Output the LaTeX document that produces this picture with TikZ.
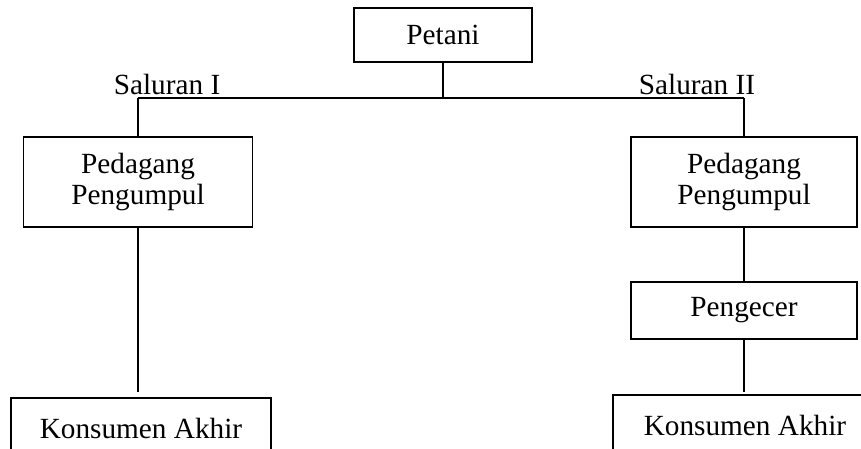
\documentclass[tikz,border=0pt]{standalone}
\usepackage{fontspec}
\setmainfont{Liberation Serif}
\newcommand{\pxu}{0.41pt}

\begin{document}
\begin{tikzpicture}[x=\pxu,y=-\pxu,
    kotak/.style={draw,line width=0.6pt,inner sep=0pt,align=center,
        font=\fontsize{12}{12.6}\selectfont},
    garis/.style={line width=0.45pt},
    label/.style={font=\fontsize{12}{12.6}\selectfont}]

\useasboundingbox (0,0) rectangle (861,448);
\begin{scope}
\clip (0,0) rectangle (861,448);

% boxes
\node[kotak,minimum width=178*\pxu,minimum height=54*\pxu] (petani) at (443,35) {Petani};
\node[kotak,minimum width=229*\pxu,minimum height=90*\pxu] (pp1) at (138,182) {Pedagang\\Pengumpul};
\node[kotak,minimum width=226*\pxu,minimum height=90*\pxu] (pp2) at (744,182) {Pedagang\\Pengumpul};
\node[kotak,minimum width=226*\pxu,minimum height=57*\pxu] (pengecer) at (744,310.5) {Pengecer};
\node[kotak,minimum width=260*\pxu,minimum height=60*\pxu] (ka1) at (141,428) {Konsumen Akhir};
\node[kotak,minimum width=264*\pxu,minimum height=60*\pxu] (ka2) at (745,425) {Konsumen Akhir};

% lines
\coordinate (cabang) at (441,98);
\coordinate (ujung1) at (138,392);
\coordinate (ujung2) at (744,392);
\draw[garis] (petani) -- (petani |- cabang);
\draw[garis] (pp1 |- cabang) -- (pp2 |- cabang);
\draw[garis] (pp1 |- cabang) -- (pp1);
\draw[garis] (pp2 |- cabang) -- (pp2);
\draw[garis] (pp1) -- (ujung1);
\draw[garis] (pp2) -- (pengecer);
\draw[garis] (pengecer) -- (ujung2);

% labels
\node[label] (sal1) at (167,84) {Saluran I};
\node[label] (sal2) at (697,84) {Saluran II};
\end{scope}

\end{tikzpicture}
\end{document}
